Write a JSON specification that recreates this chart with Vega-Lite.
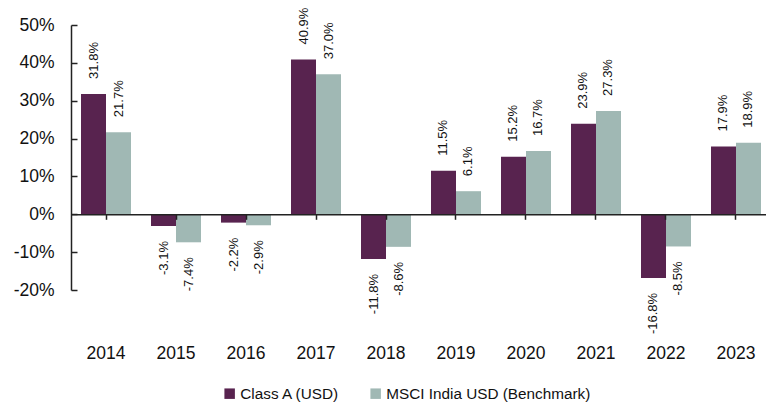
{
  "$schema": "https://vega.github.io/schema/vega-lite/v6.json",
  "width": 700,
  "height": 265,
  "autosize": {"type": "none"},
  "padding": {"left": 71, "top": 25, "right": 0, "bottom": 112},
  "config": {
    "view": {"stroke": null},
    "font": "Liberation Sans",
    "locale": {"number": {"decimal": ".", "thousands": ",", "grouping": [3], "currency": ["$", ""], "minus": "-"}},
    "axis": {"grid": false, "labelFont": "Liberation Sans", "labelColor": "#111", "domainColor": "#222", "tickColor": "#222"}
  },
  "data": {
    "values": [
      {"year": "2014", "series": "Class A (USD)", "value": 0.318},
      {"year": "2014", "series": "MSCI India USD (Benchmark)", "value": 0.217},
      {"year": "2015", "series": "Class A (USD)", "value": -0.031},
      {"year": "2015", "series": "MSCI India USD (Benchmark)", "value": -0.074},
      {"year": "2016", "series": "Class A (USD)", "value": -0.022},
      {"year": "2016", "series": "MSCI India USD (Benchmark)", "value": -0.029},
      {"year": "2017", "series": "Class A (USD)", "value": 0.409},
      {"year": "2017", "series": "MSCI India USD (Benchmark)", "value": 0.370},
      {"year": "2018", "series": "Class A (USD)", "value": -0.118},
      {"year": "2018", "series": "MSCI India USD (Benchmark)", "value": -0.086},
      {"year": "2019", "series": "Class A (USD)", "value": 0.115},
      {"year": "2019", "series": "MSCI India USD (Benchmark)", "value": 0.061},
      {"year": "2020", "series": "Class A (USD)", "value": 0.152},
      {"year": "2020", "series": "MSCI India USD (Benchmark)", "value": 0.167},
      {"year": "2021", "series": "Class A (USD)", "value": 0.239},
      {"year": "2021", "series": "MSCI India USD (Benchmark)", "value": 0.273},
      {"year": "2022", "series": "Class A (USD)", "value": -0.168},
      {"year": "2022", "series": "MSCI India USD (Benchmark)", "value": -0.085},
      {"year": "2023", "series": "Class A (USD)", "value": 0.179},
      {"year": "2023", "series": "MSCI India USD (Benchmark)", "value": 0.189}
    ]
  },
  "encoding": {
    "x": {
      "field": "year", "type": "nominal", "title": null,
      "scale": {"paddingInner": 0.2857, "paddingOuter": 0.1429},
      "axis": {"offset": -75.7, "zindex": 1, "labelAngle": 0, "labelFontSize": 17.5, "labelPadding": 125, "tickSize": 5, "domainWidth": 1.5, "tickWidth": 1.5, "labelBaseline": "top"}
    },
    "xOffset": {"field": "series", "type": "nominal", "sort": ["Class A (USD)", "MSCI India USD (Benchmark)"]},
    "y": {
      "field": "value", "type": "quantitative", "title": null,
      "scale": {"domain": [-0.2, 0.5], "nice": false, "zero": false},
      "axis": {"values": [-0.2, -0.1, 0, 0.1, 0.2, 0.3, 0.4, 0.5], "format": ".0%", "labelFontSize": 17.5, "tickSize": -6, "labelPadding": 23, "domainWidth": 1.5, "tickWidth": 1.5}
    }
  },
  "layer": [
    {
      "mark": {"type": "bar"},
      "encoding": {
        "color": {
          "field": "series", "type": "nominal",
          "scale": {"domain": ["Class A (USD)", "MSCI India USD (Benchmark)"], "range": ["#58234f", "#a0b8b4"]},
          "legend": {"title": null, "orient": "none", "legendX": 151, "legendY": 361, "direction": "horizontal", "symbolType": "square", "symbolSize": 110, "symbolStrokeWidth": 0, "labelFontSize": 15.3, "labelOffset": 3, "labelLimit": 0, "columnPadding": 28, "labelColor": "#111", "labelFont": "Liberation Sans"}
        }
      }
    },
    {
      "transform": [{"filter": "datum.value >= 0"}],
      "mark": {"type": "text", "angle": 270, "align": "left", "baseline": "middle", "dx": 15, "fontSize": 13, "color": "#111"},
      "encoding": {"text": {"field": "value", "type": "quantitative", "format": ".1%"}}
    },
    {
      "transform": [{"filter": "datum.value < 0"}],
      "mark": {"type": "text", "angle": 270, "align": "right", "baseline": "middle", "dx": -15, "fontSize": 13, "color": "#111"},
      "encoding": {"text": {"field": "value", "type": "quantitative", "format": ".1%"}}
    }
  ]
}
